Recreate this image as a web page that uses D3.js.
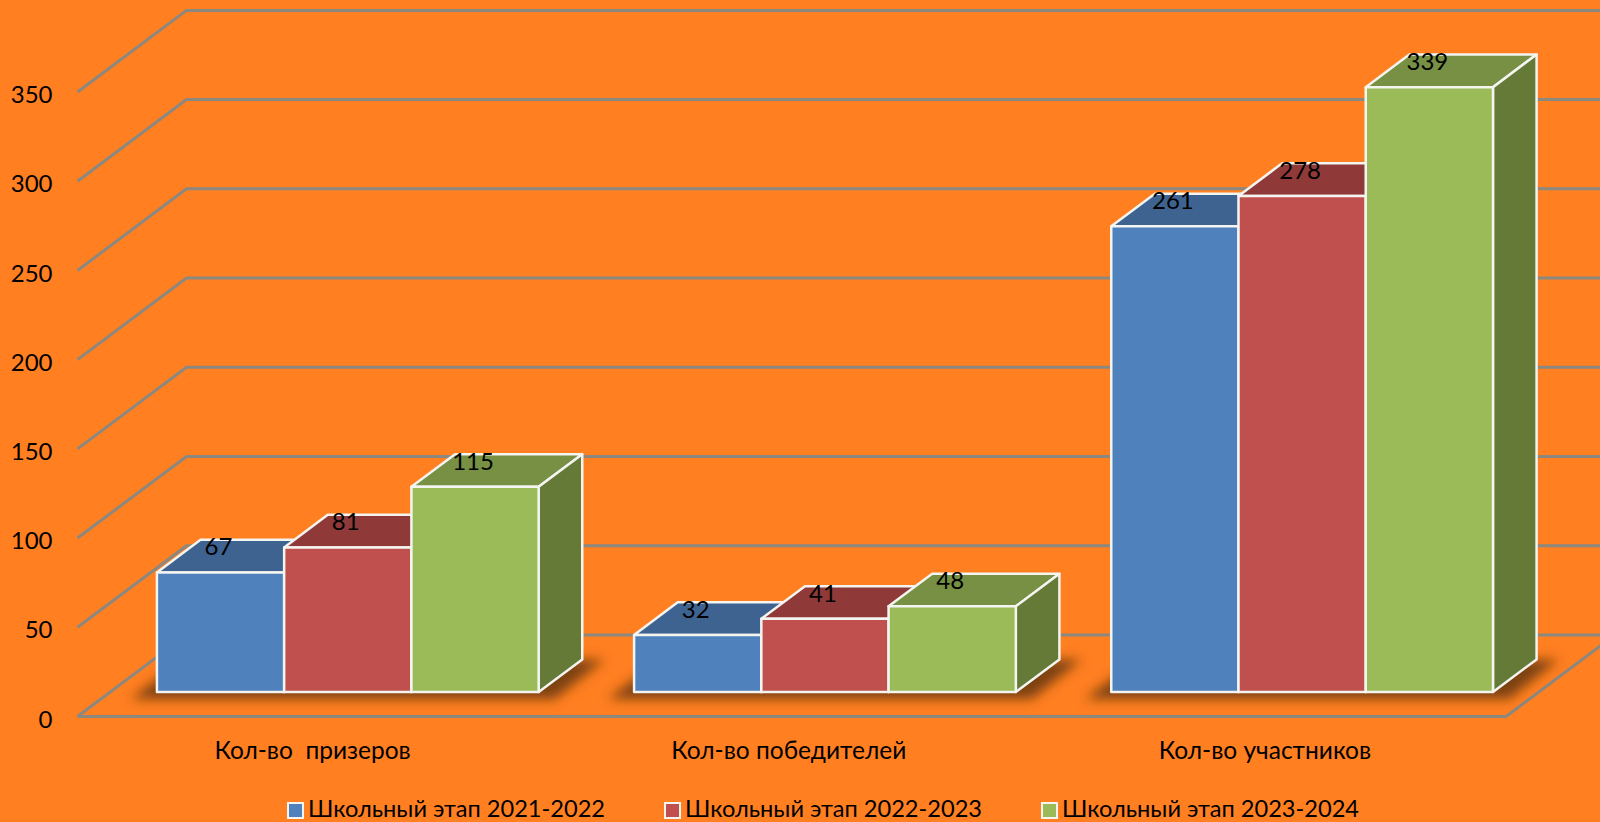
<!DOCTYPE html>
<html>
<head>
<meta charset="utf-8">
<script src="https://cdn.jsdelivr.net/npm/d3@7"></script>
<style>
    body { margin: 0; background: #ff7f21; overflow: hidden; }
    text { font-family: Lato, "Open Sans", sans-serif; fill: #000; }
</style>
</head>
<body>
<div id="wrapper"></div>
<script>
const categories = ["Кол-во  призеров", "Кол-во победителей", "Кол-во участников"];
const seriesNames = ["Школьный этап 2021-2022", "Школьный этап 2022-2023", "Школьный этап 2023-2024"];
const values2122 = [67, 32, 261];
const values2223 = [81, 41, 278];
const values2324 = [115, 48, 339];
const yTicks = [0, 50, 100, 150, 200, 250, 300, 350];

const frontColors = ["#4f81bd", "#c0504d", "#9bbb59"];
const topColors = ["#3e6390", "#8f3a39", "#779043"];
const sideColors = ["#345479", "#7a2f2e", "#667a38"];

function drawChart() {
    const dimensions = {
        width: 1600,
        height: 822,
        left: 77.5,
        right: 1506,
        floorY: 716.5,
        topY: 92,
        depthX: 109,
        depthY: -81.6
    };

    const svg = d3.select("#wrapper")
        .append("svg")
        .attr("width", dimensions.width)
        .attr("height", dimensions.height)
        .style("display", "block");

    svg.append("rect")
        .attr("width", dimensions.width)
        .attr("height", dimensions.height)
        .attr("fill", "#ff7f21");

    const blur = svg.append("defs").append("filter")
        .attr("id", "shadowBlur")
        .attr("x", "-20%").attr("y", "-50%")
        .attr("width", "140%").attr("height", "200%");
    blur.append("feGaussianBlur").attr("stdDeviation", 6);

    const yScale = d3.scaleLinear()
        .domain([0, 350])
        .range([dimensions.floorY, dimensions.topY]);

    const xScale = d3.scaleBand()
        .domain(categories)
        .range([dimensions.left - 1, dimensions.right + 2])
        .paddingInner(0.2)
        .paddingOuter(0.1);

    const seriesScale = d3.scaleBand()
        .domain(d3.range(seriesNames.length))
        .range([0, xScale.bandwidth()]);

    const floorBand = d3.scaleBand()
        .domain(categories)
        .range([dimensions.left, dimensions.right]);

    // walls
    const grid = svg.append("g")
        .attr("fill", "none")
        .attr("stroke", "#8b8880")
        .attr("stroke-width", 3);

    yTicks.forEach(t => {
        const y = yScale(t);
        grid.append("path").attr("d", d3.line()([
            [dimensions.left, y],
            [dimensions.left + dimensions.depthX, y + dimensions.depthY],
            [dimensions.width + 10, y + dimensions.depthY]
        ]));
        if (t === 0) {
            grid.append("path").attr("d", d3.line()([
                [dimensions.left, y],
                [dimensions.right, y],
                [dimensions.right + dimensions.depthX, y + dimensions.depthY]
            ]));
        }
    });

    // bars sit between 30% and 70% of the floor depth
    const frontDepth = 0.3;
    const backDepth = 0.7;
    const offX = frontDepth * dimensions.depthX;
    const offY = frontDepth * dimensions.depthY;
    const dX = (backDepth - frontDepth) * dimensions.depthX;
    const dY = (backDepth - frontDepth) * dimensions.depthY;
    const allValues = [values2122, values2223, values2324];

    const shadows = svg.append("g")
        .attr("fill", "#6e3a10")
        .attr("fill-opacity", 0.9)
        .attr("filter", "url(#shadowBlur)");

    const bars = svg.append("g")
        .attr("stroke", "#f4f4f0")
        .attr("stroke-width", 2.5)
        .attr("stroke-linejoin", "round");

    const labels = svg.append("g")
        .attr("font-size", 24)
        .attr("text-anchor", "middle");

    categories.forEach((cat, c) => {
        const x0 = xScale(cat) + offX;
        const x1 = x0 + xScale.bandwidth();
        const base = yScale(0) + offY;

        shadows.append("path").attr("d", d3.line()([
            [x0 - 26, base + 7],
            [x0 - 26 + dX, base + 7 + dY],
            [x1 + dX + 22, base + dY],
            [x1 + 16, base + 7]
        ]) + "Z");

        allValues.forEach((vals, s) => {
            const xa = x0 + seriesScale(s);
            const xb = xa + seriesScale.bandwidth();
            const top = yScale(vals[c]) + offY;

            bars.append("path")
                .attr("fill", topColors[s])
                .attr("d", d3.line()([[xa, top], [xa + dX, top + dY], [xb + dX, top + dY], [xb, top]]) + "Z");
            bars.append("path")
                .attr("fill", sideColors[s])
                .attr("d", d3.line()([[xb, top], [xb + dX, top + dY], [xb + dX, base + dY], [xb, base]]) + "Z");
            bars.append("path")
                .attr("fill", frontColors[s])
                .attr("d", d3.line()([[xa, top], [xb, top], [xb, base], [xa, base]]) + "Z");

            labels.append("text")
                .attr("x", (xa + xb) / 2 - 2)
                .attr("y", top - 17)
                .text(vals[c]);
        });
    });

    // axes
    const yAxis = svg.append("g")
        .attr("transform", `translate(${dimensions.left - 25}, 3)`)
        .call(d3.axisLeft(yScale).tickValues(yTicks).tickSize(0).tickPadding(0));
    yAxis.select(".domain").remove();
    yAxis.selectAll("text").attr("font-size", 24).style("font-family", null);

    const xAxis = svg.append("g")
        .attr("transform", `translate(-3, 742)`)
        .call(d3.axisBottom(floorBand).tickSize(0).tickPadding(0));
    xAxis.select(".domain").remove();
    xAxis.selectAll("text").attr("font-size", 24.5).attr("dy", "0.71em")
        .style("font-family", null).style("white-space", "pre");

    // legend
    const legendX = [288, 665, 1042];
    const legend = svg.append("g");
    seriesNames.forEach((name, s) => {
        legend.append("rect")
            .attr("x", legendX[s])
            .attr("y", 803)
            .attr("width", 15)
            .attr("height", 15)
            .attr("fill", frontColors[s])
            .attr("stroke", "#f4f4f0")
            .attr("stroke-width", 2);
        legend.append("text")
            .attr("x", legendX[s] + 20)
            .attr("y", 817)
            .attr("font-size", 23.6)
            .text(name);
    });
}

drawChart();
</script>
</body>
</html>
